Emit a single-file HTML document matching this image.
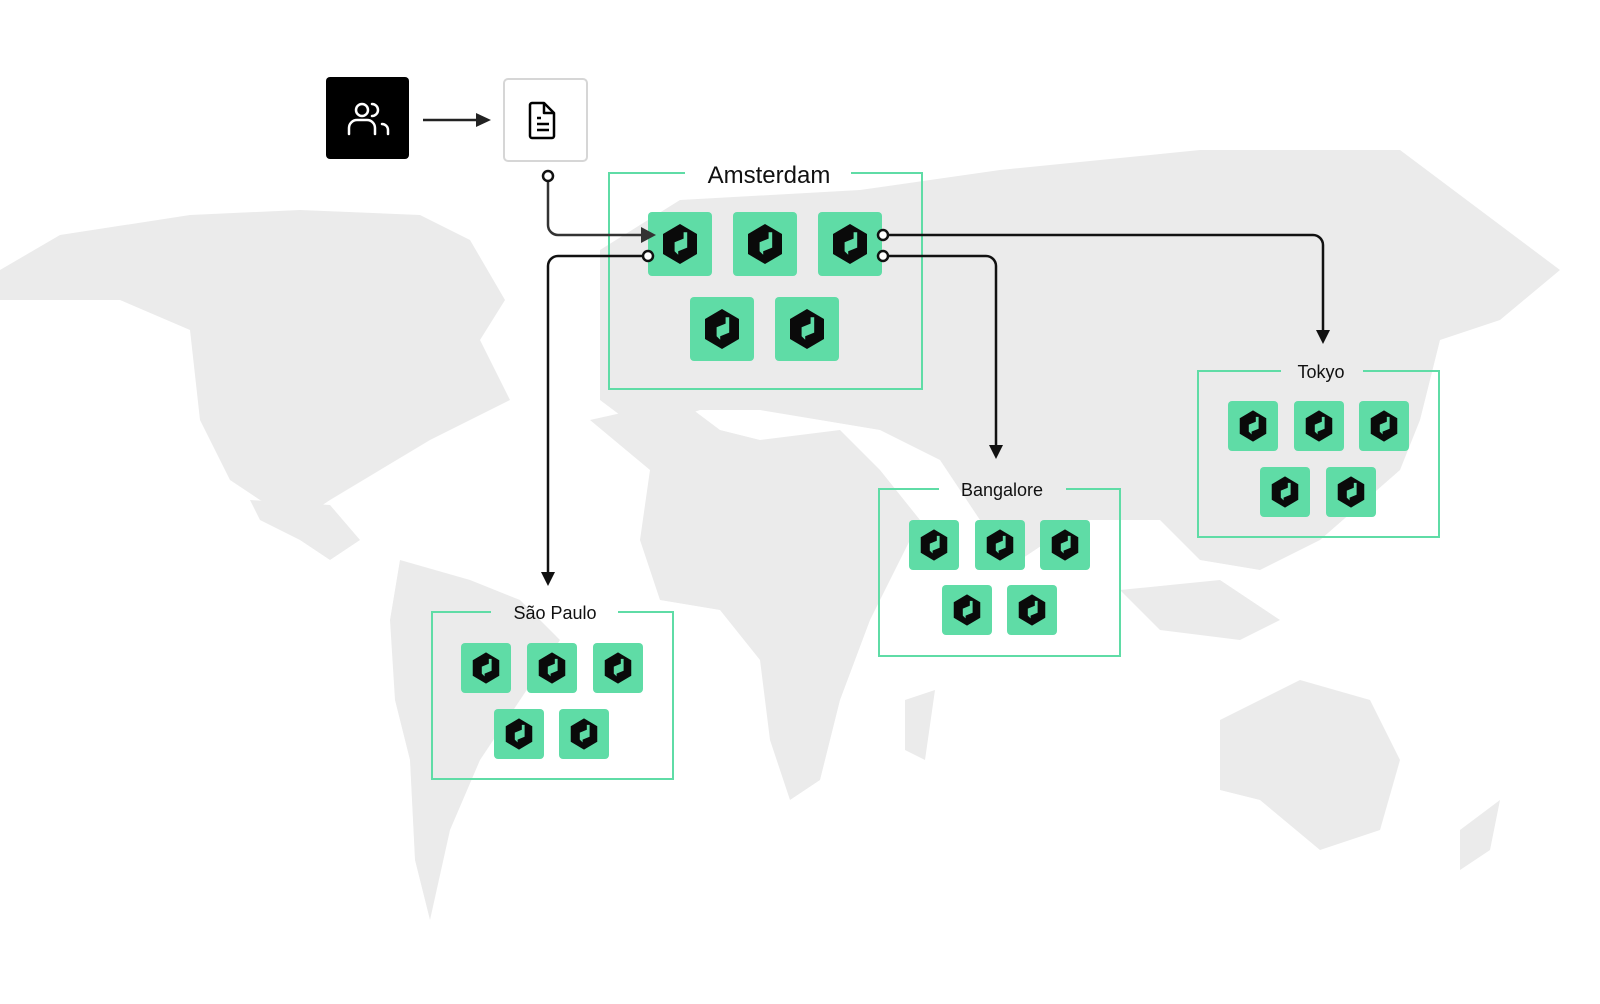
<!DOCTYPE html>
<html><head><style>
html,body{margin:0;padding:0;width:1600px;height:1004px;background:#fff;overflow:hidden;font-family:"Liberation Sans",sans-serif}
svg{display:block}
</style></head><body>
<svg width="1600" height="1004" viewBox="0 0 1600 1004" xmlns="http://www.w3.org/2000/svg">
<defs>
<g id="hx"><path d="M0,-20 L17,-10 L17,10 L0,20 L-17,10 L-17,-10Z" fill="#0a0a0a"/><path d="M-6,8 L-6,-2 L4,-6 L4,-13 L8,-13 L8,4 L-2,8 L-2,12Z" fill="#5fdca6" transform="scale(0.9)"/></g>
<g id="sm">
<rect x="0" y="0" width="50" height="50" rx="4" fill="#5fdca6"/><use href="#hx" transform="translate(25,25) scale(0.78)"/>
</g>
</defs>
<g fill="#ebebeb">
<path d="M0,270 L60,235 L190,215 L300,210 L420,215 L470,240 L505,300 L480,340 L510,400 L470,420 L430,440 L380,470 L330,500 L300,520 L260,500 L230,480 L200,420 L190,330 L120,300 L60,300 L0,300Z"/>
<path d="M250,500 L330,505 L360,540 L330,560 L300,540 L260,520Z"/>
<path d="M400,560 L470,580 L520,600 L560,640 L520,700 L480,760 L450,830 L430,920 L415,860 L410,760 L395,700 L390,620Z"/>
<path d="M590,420 L680,400 L720,430 L760,440 L840,430 L880,470 L920,520 L900,560 L870,620 L840,700 L820,780 L790,800 L770,740 L760,660 L720,610 L660,600 L640,540 L650,470Z"/>
<path d="M600,250 L680,200 L860,190 L1000,170 L1200,150 L1400,150 L1560,270 L1500,320 L1440,340 L1420,420 L1400,470 L1320,540 L1260,570 L1200,560 L1160,520 L1080,520 L1020,560 L980,520 L940,460 L880,430 L820,420 L760,410 L700,410 L640,430 L600,400 L600,320Z"/>
<path d="M1120,590 L1220,580 L1280,620 L1240,640 L1160,630Z"/>
<path d="M1220,720 L1300,680 L1370,700 L1400,760 L1380,830 L1320,850 L1260,800 L1220,790Z"/>
<path d="M905,700 L935,690 L925,760 L905,750Z"/>
<path d="M1460,830 L1500,800 L1490,850 L1460,870Z"/>
</g>
<rect x="326" y="77" width="83" height="82" rx="4" fill="#000"/>
<g stroke="#fff" stroke-width="2.5" fill="none" stroke-linecap="round"><circle cx="362" cy="110" r="6"/><path d="M349,134 v-6 a8,8 0 0 1 8,-8 h10 a8,8 0 0 1 8,8 v6"/><path d="M372,104 a6,6 0 0 1 0,12"/><path d="M382,124 a6,6 0 0 1 6,6 v4"/></g>
<rect x="504" y="79" width="83" height="82" rx="4" fill="#fff" stroke="#d6d6d6" stroke-width="2"/>
<g stroke="#000" stroke-width="2.5" fill="none" stroke-linejoin="round"><path d="M532,103 h12 l10,10 v23 a2,2 0 0 1 -2,2 h-20 a2,2 0 0 1 -2,-2 v-31 a2,2 0 0 1 2,-2z"/><path d="M544,103 v10 h10"/><path d="M537,118 h4 M537,124 h12 M537,130 h12"/></g>
<line x1="423" y1="120" x2="478" y2="120" stroke="#222" stroke-width="2.5"/><path d="M476,113 L491,120 L476,127Z" fill="#222"/>
<g fill="none" stroke="#5fdca6" stroke-width="2">
<path d="M685,173 H609 V389 H922 V173 H851"/>
<path d="M1281,371 H1198 V537 H1439 V371 H1363"/>
<path d="M939,489 H879 V656 H1120 V489 H1066"/>
<path d="M491,612 H432 V779 H673 V612 H618"/>
</g>
<text x="769" y="183" font-size="24" text-anchor="middle" fill="#111">Amsterdam</text>
<text x="1321" y="378" font-size="18" text-anchor="middle" fill="#111">Tokyo</text>
<text x="1002" y="496" font-size="18" text-anchor="middle" fill="#111">Bangalore</text>
<text x="555" y="619" font-size="18" text-anchor="middle" fill="#111">São Paulo</text>
<g fill="#5fdca6">
<rect x="648" y="212" width="64" height="64" rx="4"/><rect x="733" y="212" width="64" height="64" rx="4"/><rect x="818" y="212" width="64" height="64" rx="4"/><rect x="690" y="297" width="64" height="64" rx="4"/><rect x="775" y="297" width="64" height="64" rx="4"/>
</g>
<use href="#hx" x="680" y="244"/><use href="#hx" x="765" y="244"/><use href="#hx" x="850" y="244"/><use href="#hx" x="722" y="329"/><use href="#hx" x="807" y="329"/>
<use href="#sm" x="1228" y="401"/><use href="#sm" x="1294" y="401"/><use href="#sm" x="1359" y="401"/><use href="#sm" x="1260" y="467"/><use href="#sm" x="1326" y="467"/>
<use href="#sm" x="909" y="520"/><use href="#sm" x="975" y="520"/><use href="#sm" x="1040" y="520"/><use href="#sm" x="942" y="585"/><use href="#sm" x="1007" y="585"/>
<use href="#sm" x="461" y="643"/><use href="#sm" x="527" y="643"/><use href="#sm" x="593" y="643"/><use href="#sm" x="494" y="709"/><use href="#sm" x="559" y="709"/>
<g fill="none" stroke="#111" stroke-width="2.5">
<path d="M548,180 V225 a10,10 0 0 0 10,10 H644" stroke="#333"/>
<path d="M643,256 H558 a10,10 0 0 0 -10,10 V573"/>
<path d="M888,235 H1313 a10,10 0 0 1 10,10 V331"/>
<path d="M888,256 H986 a10,10 0 0 1 10,10 V446"/>
</g>
<path d="M641,227 L656,235 L641,243Z" fill="#333"/>
<path d="M541,572 L548,586 L555,572Z" fill="#111"/>
<path d="M1316,330 L1323,344 L1330,330Z" fill="#111"/>
<path d="M989,445 L996,459 L1003,445Z" fill="#111"/>
<g fill="#fff" stroke="#111" stroke-width="2.5">
<circle cx="548" cy="176" r="5"/><circle cx="648" cy="256" r="5"/><circle cx="883" cy="235" r="5"/><circle cx="883" cy="256" r="5"/>
</g>
</svg>
</body></html>
